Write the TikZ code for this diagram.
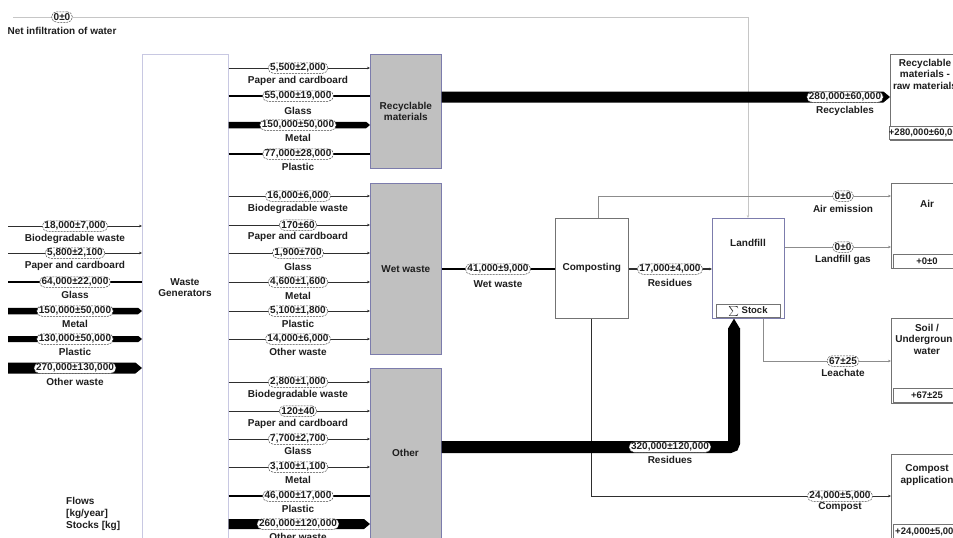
\documentclass[tikz,border=0pt]{standalone}
\usepackage{fontspec}
\setmainfont{Liberation Sans}
\usetikzlibrary{arrows.meta,calc}
\definecolor{txt}{HTML}{1E1E1E}
\definecolor{boxfill}{HTML}{C0C0C0}
\definecolor{boxline}{HTML}{7C7CAC}
\definecolor{wgline}{HTML}{C8C8E2}
\definecolor{gline}{HTML}{8C8C8C}
\definecolor{fline}{HTML}{2E2E2E}
\tikzset{
  val/.style={draw=gray!55!black, dash pattern=on 2pt off 1pt, line width=0.5pt, fill=white,
    rounded corners=5pt, inner xsep=2pt, inner ysep=0.8pt, minimum height=10.5pt,
    font=\fontsize{10}{10.5}\selectfont\bfseries, text=txt},
  lab/.style={font=\fontsize{10}{11.5}\selectfont\bfseries, text=txt, inner sep=0pt, align=center},
  sortbox/.style={draw=boxline, fill=boxfill, line width=0.7pt, anchor=north west, inner sep=0pt,
    font=\fontsize{10}{11.5}\selectfont\bfseries, text=txt, align=center},
  procbox/.style={draw=gray!90!black, fill=white, line width=0.6pt, anchor=north west, inner sep=0pt,
    font=\fontsize{10}{11.5}\selectfont\bfseries, text=txt, align=center},
  stockbox/.style={draw=gray!90!black, fill=white, line width=0.6pt, inner sep=0pt,
    minimum height=13.5pt, font=\fontsize{9.5}{10}\selectfont\bfseries, text=txt},
  thinflow/.style={draw=fline, line width=0.8pt, -{Stealth[length=3pt,width=2.6pt]}},
  midflow/.style={draw=black, line width=#1},
  greyflow/.style={draw=gline, line width=0.8pt, -{Stealth[length=3pt,width=2.6pt]}},
}
\newcommand\flowband[3]{\fill[black] let \p1=(#1), \p2=(#2) in
  (\x1,\y1+#3*0.5pt) -- (\x2-#3*0.6pt,\y1+#3*0.5pt) -- (\x2,\y1) --
  (\x2-#3*0.6pt,\y1-#3*0.5pt) -- (\x1,\y1-#3*0.5pt) -- cycle;}
\newcommand\flowtag[6]{\node[val] (#1) at (#2,#3) {#5}; \node[lab] (#1l) at (#2,#4) {#6};}
\begin{document}
\begin{tikzpicture}[x=1pt,y=-1pt]
\useasboundingbox (0,0) rectangle (953,538);
\clip (0,0) rectangle (953,538);
\fill[white] (0,0) rectangle (953,538);

% ---------- boxes ----------
\node[procbox, draw=wgline, minimum width=86pt, minimum height=520pt] (wg) at (142,54) {};
\node[lab] (wgt) at (185,288) {Waste\\[-0.5pt]Generators};

\node[sortbox, minimum width=71pt, minimum height=114pt] (rec) at (370,54) {Recyclable\\materials};
\node[sortbox, minimum width=71pt, minimum height=171pt] (wet) at (370,183) {Wet waste};
\node[sortbox, minimum width=71pt, minimum height=200pt] (oth) at (370,368) {};
\node[lab] (otht) at (405.5,453) {Other};

\node[procbox, minimum width=73pt, minimum height=100pt] (comp) at (555,218) {Composting};
\node[procbox, draw=boxline, minimum width=72pt, minimum height=100pt] (land) at (712,218) {};
\node[lab] (landt) at (748,243) {Landfill};
\node[stockbox, minimum width=64pt] (lands) at (748,311) {$\sum$ Stock};

\node[procbox, minimum width=72pt, minimum height=86pt] (rmat) at (890,54) {};
\node[lab] (rmatt) at (925,74) {Recyclable\\materials -\\raw materials};
\node[stockbox, minimum width=68pt] (rmats) at (926,133) {+280,000±60,000};

\node[procbox, minimum width=72pt, minimum height=85pt] (air) at (891,183) {};
\node[lab] (airt) at (927,204) {Air};
\node[stockbox, minimum width=68pt] (airs) at (927,261.5) {+0±0};

\node[procbox, minimum width=72pt, minimum height=85pt] (soil) at (891,318) {};
\node[lab] (soilt) at (927,339) {Soil /\\Underground\\water};
\node[stockbox, minimum width=68pt] (soils) at (927,395.5) {+67±25};

\node[procbox, minimum width=72pt, minimum height=100pt] (capp) at (891,454) {};
\node[lab] (cappt) at (927,475) {Compost\\application};
\node[stockbox, minimum width=68pt] (capps) at (927,531.5) {+24,000±5,000};

% ---------- net infiltration ----------
\coordinate (nin) at (13,17);
\draw[draw=gray!45, line width=0.8pt, -{Stealth[length=3pt,width=2.6pt]}] (nin) -| (land.north -| 748,0);
\flowtag{v0}{62}{17}{31}{0±0}{Net infiltration of water}

% ---------- inputs to waste generators ----------
\coordinate (in1) at (8,226); \coordinate (in2) at (8,253); \coordinate (in3) at (8,282);
\coordinate (in4) at (8,311); \coordinate (in5) at (8,339); \coordinate (in6) at (8,368);
\draw[thinflow] (in1) -- (wg.west |- in1);
\draw[thinflow] (in2) -- (wg.west |- in2);
\draw[midflow=2.5pt] (in3) -- (wg.west |- in3);
\flowband{in4}{wg.west |- in4}{6.5}
\flowband{in5}{wg.west |- in5}{6}
\flowband{in6}{wg.west |- in6}{11}
\flowtag{v1}{75}{226}{239}{18,000±7,000}{Biodegradable waste}
\flowtag{v2}{75}{253}{265.5}{5,800±2,100}{Paper and cardboard}
\flowtag{v3}{75}{282}{294.5}{64,000±22,000}{Glass}
\flowtag{v4}{75}{311}{323.5}{150,000±50,000}{Metal}
\flowtag{v5}{75}{339}{352}{130,000±50,000}{Plastic}
\flowtag{v6}{75}{368}{381.5}{270,000±130,000}{Other waste}

% ---------- to recyclable materials ----------
\draw[thinflow] (wg.east |- 0,68) -- (rec.west |- 0,68);
\draw[midflow=2.5pt] (wg.east |- 0,96) -- (rec.west |- 0,96);
\flowband{wg.east |- 0,125}{rec.west |- 0,125}{6.5}
\draw[midflow=2.5pt] (wg.east |- 0,154) -- (rec.west |- 0,154);
\flowtag{r1}{298}{68}{80.5}{5,500±2,000}{Paper and cardboard}
\flowtag{r2}{298}{96}{111}{55,000±19,000}{Glass}
\flowtag{r3}{298}{125}{138}{150,000±50,000}{Metal}
\flowtag{r4}{298}{154}{166.5}{77,000±28,000}{Plastic}

% ---------- to wet waste ----------
\foreach \yy in {196,225,253,282,311,339} {
  \draw[thinflow] (wg.east |- 0,\yy) -- (wet.west |- 0,\yy);
}
\flowtag{w1}{298}{196}{209}{16,000±6,000}{Biodegradable waste}
\flowtag{w2}{298}{225}{236.5}{170±60}{Paper and cardboard}
\flowtag{w3}{298}{253}{266.5}{1,900±700}{Glass}
\flowtag{w4}{298}{282}{296}{4,600±1,600}{Metal}
\flowtag{w5}{298}{311}{324}{5,100±1,800}{Plastic}
\flowtag{w6}{298}{339}{351.5}{14,000±6,000}{Other waste}

% ---------- to other ----------
\foreach \yy in {382,411,439,467} {
  \draw[thinflow] (wg.east |- 0,\yy) -- (oth.west |- 0,\yy);
}
\draw[midflow=2pt] (wg.east |- 0,496) -- (oth.west |- 0,496);
\flowband{wg.east |- 0,524}{oth.west |- 0,524}{10}
\flowtag{o1}{298}{382}{394.5}{2,800±1,000}{Biodegradable waste}
\flowtag{o2}{298}{411}{424}{120±40}{Paper and cardboard}
\flowtag{o3}{298}{439}{451}{7,700±2,700}{Glass}
\flowtag{o4}{298}{467}{480}{3,100±1,100}{Metal}
\flowtag{o5}{298}{496}{508.5}{46,000±17,000}{Plastic}
\flowtag{o6}{298}{524}{537}{260,000±120,000}{Other waste}

% ---------- process flows ----------
\flowband{rec.east |- 0,97}{rmat.west |- 0,97}{11}
\flowtag{p1}{845}{97}{111}{280,000±60,000}{Recyclables}

\draw[midflow=2pt] (wet.east |- 0,269) -- (comp.west |- 0,269);
\flowtag{p2}{498}{269}{284}{41,000±9,000}{Wet waste}

\draw[thinflow, line width=1.2pt] (comp.east |- 0,269) -- (land.west |- 0,269);
\flowtag{p3}{670}{269}{282.5}{17,000±4,000}{Residues}

\draw[greyflow] (comp.north -| 598,0) |- (air.west |- 0,196);
\flowtag{p4}{843}{196}{209}{0±0}{Air emission}

\draw[greyflow] (land.east |- 0,247) -- (air.west |- 0,247);
\flowtag{p5}{843}{247}{259.5}{0±0}{Landfill gas}

\draw[greyflow] (land.south -| 763,0) |- (soil.west |- 0,361);
\flowtag{p6}{843}{361}{372.5}{67±25}{Leachate}

\draw[thinflow, line width=1pt] (comp.south) |- (capp.west |- 0,496);
\flowtag{p7}{840}{496}{507.5}{24,000±5,000}{Compost}

\coordinate (rtip) at (land.south -| 734,0);
\draw[black, line width=12pt, rounded corners=4pt] (oth.east |- 0,447) -| ([yshift=-9.5pt]rtip);
\fill[black] ([xshift=-6pt,yshift=-10pt]rtip) -- (rtip) -- ([xshift=6pt,yshift=-10pt]rtip) -- cycle;
\flowtag{p8}{670}{447}{459.5}{320,000±120,000}{Residues}

% ---------- units ----------
\node[lab, align=left, anchor=west, font=\fontsize{10}{12}\selectfont\bfseries] (units) at (66,514) {Flows\\{}[kg/year]\\Stocks [kg]};
\end{tikzpicture}
\end{document}
